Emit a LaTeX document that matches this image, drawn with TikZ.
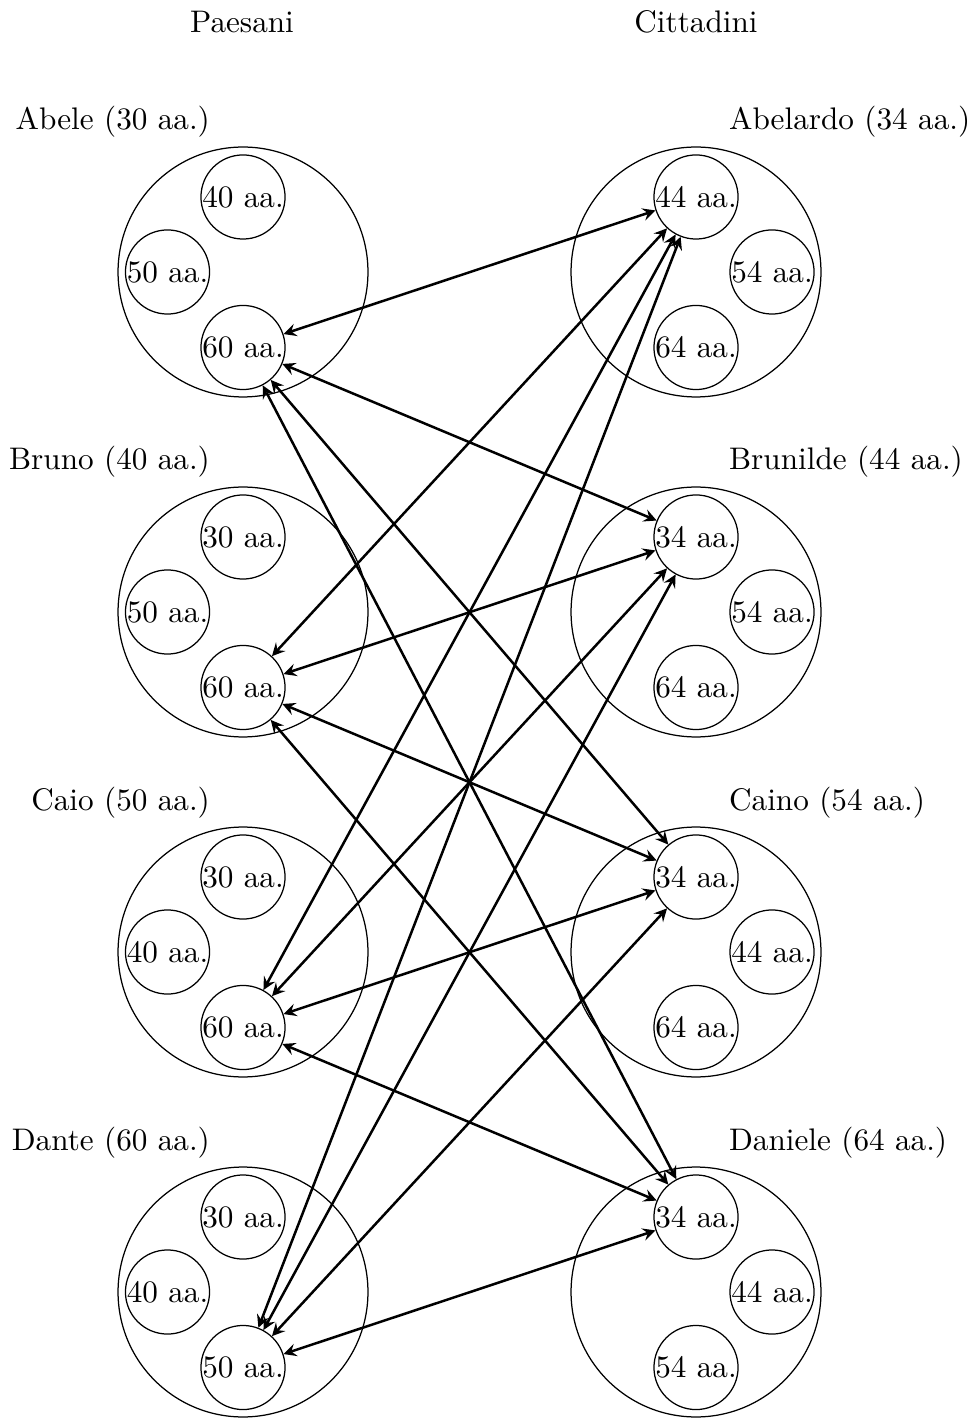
\documentclass[tikz,border=0pt]{standalone}
\usetikzlibrary{arrows}
\begin{document}
\begin{tikzpicture}[x=0.3205pt,y=-0.3205pt,
  group/.style={circle,draw,thin,minimum size=80.1pt,inner sep=0pt},
  person/.style={circle,draw,thin,minimum size=26.9pt,inner sep=0pt},
  link/.style={thick,<->,>=stealth},
  lbl/.style={inner sep=0pt}]
\useasboundingbox (0,0) rectangle (974,1418);
\node[lbl] (tP) at (242,22) {Paesani};
\node[lbl] (tC) at (696,22) {Cittadini};
% left groups
\foreach \i/\name/\a/\b/\c in {1/Abele (30 aa.)/40/50/60, 2/Bruno (40 aa.)/30/50/60, 3/Caio (50 aa.)/30/40/60, 4/Dante (60 aa.)/30/40/50}{
  \pgfmathsetmacro{\yy}{272+340*(\i-1)}
  \node[lbl,anchor=base east] (Ln\i) at (210.5,\yy-142) {\name};
  \node[group] (L\i) at (243,\yy) {};
  \node[person] (L\i t) at (243,\yy-75) {\a{} aa.};
  \node[person] (L\i l) at (167.5,\yy) {\b{} aa.};
  \node[person] (L\i b) at (243,\yy+75.5) {\c{} aa.};
}
% right groups
\foreach \i/\name/\a/\b/\c in {1/Abelardo (34 aa.)/44/54/64, 2/Brunilde (44 aa.)/34/54/64, 3/Caino (54 aa.)/34/44/64, 4/Daniele (64 aa.)/34/44/54}{
  \pgfmathsetmacro{\yy}{272+340*(\i-1)}
  \node[lbl,anchor=base west] (Rn\i) at (728.5,\yy-142) {\name};
  \node[group] (R\i) at (696,\yy) {};
  \node[person] (R\i t) at (696,\yy-75) {\a{} aa.};
  \node[person] (R\i r) at (772,\yy) {\b{} aa.};
  \node[person] (R\i b) at (696,\yy+75.5) {\c{} aa.};
}
% links
\foreach \i in {1,2,3,4}{
  \foreach \j in {1,2,3,4}{
    \draw[link] (L\i b) -- (R\j t);
  }
}
\end{tikzpicture}
\end{document}
